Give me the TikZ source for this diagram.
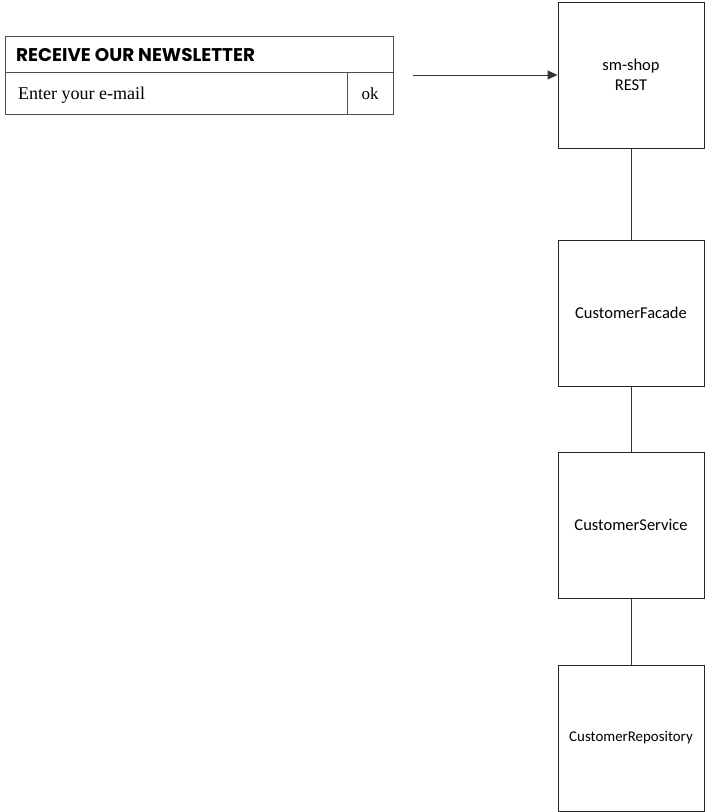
\documentclass[tikz,border=0pt]{standalone}
\usepackage{fontspec}
\setmainfont{Carlito}
\newfontfamily\titlefont{Poppins}
\newfontfamily\serifin{Liberation Serif}
\usetikzlibrary{arrows.meta}
\tikzset{
  box/.style={draw=black!85, line width=1pt, minimum width=146pt, minimum height=146pt, inner sep=0pt, align=center, font=\fontsize{16.5pt}{19.5pt}\selectfont},
  cell/.style={draw=black!70, line width=1pt, inner sep=0pt, anchor=center},
  link/.style={draw=black!80, line width=1pt}
}
\begin{document}
\begin{tikzpicture}[x=1pt,y=-1pt]
\useasboundingbox (0,0) rectangle (706,812);
% newsletter widget
\node[cell, minimum width=388pt, minimum height=36pt] (title) at (199,54) {};
\node[anchor=west, inner sep=0pt] (titletext) at (16,55) {\titlefont\bfseries\fontsize{18.4pt}{20pt}\selectfont RECEIVE OUR NEWSLETTER};
\node[cell, minimum width=342pt, minimum height=42pt] (input) at (176,93) {};
\node[anchor=base west, inner sep=0pt] (inputtext) at (18,99) {\serifin\fontsize{18pt}{20pt}\selectfont Enter your e-mail};
\node[cell, minimum width=46pt, minimum height=42pt] (ok) at (370,93) {};
\node[anchor=base, inner sep=0pt] (oktext) at (370,99) {\serifin\fontsize{17pt}{20pt}\selectfont ok};
% boxes
\node[box] (rest) at (631,75) {sm-shop\\REST};
\node[box] (facade) at (631,313) {CustomerFacade};
\node[box] (service) at (631,525) {CustomerService};
\node[box, font=\fontsize{14.9pt}{17pt}\selectfont] (repo) at (631,738) {CustomerRepository};
% connectors
\coordinate (src) at (413,75);
\draw[link, -{Triangle[length=10pt,width=9pt]}] (src) -- (rest.west);
\draw[link] (rest.south) -- (facade.north);
\draw[link] (facade.south) -- (service.north);
\draw[link] (service.south) -- (repo.north);
\end{tikzpicture}
\end{document}
